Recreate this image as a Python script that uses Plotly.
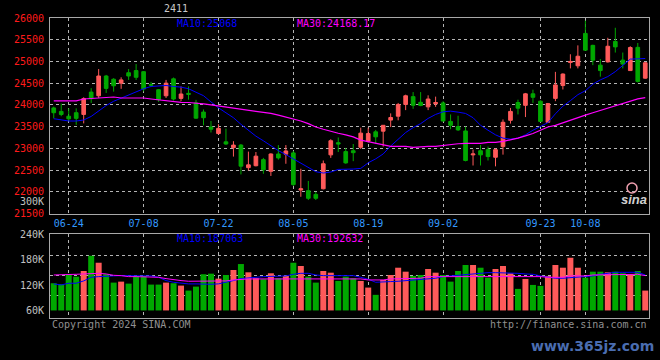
import plotly.graph_objects as go

# ---------------- data ----------------
dates = ["06-20","06-21","06-24","06-25","06-26","06-27","06-28",
         "07-01","07-02","07-03","07-04","07-05","07-08","07-09","07-10","07-11","07-12",
         "07-15","07-16","07-17","07-18","07-19","07-22","07-23","07-24","07-25","07-26",
         "07-29","07-30","07-31","08-01","08-02","08-05","08-06","08-07","08-08","08-09",
         "08-12","08-13","08-14","08-15","08-16","08-19","08-20","08-21","08-22","08-23",
         "08-26","08-27","08-28","08-29","08-30","09-02","09-03","09-04","09-05","09-06",
         "09-09","09-10","09-11","09-12","09-13","09-18","09-19","09-20","09-23","09-24",
         "09-25","09-26","09-27","09-30","10-08","10-09","10-10","10-11","10-14","10-15",
         "10-16","10-17","10-18"]

open_ = [23930,23850,23740,23820,23780,24295,24210,24665,24590,24500,
         24740,24790,24765,24470,24350,24210,24600,24150,24265,24045,
         23835,23490,23340,23150,23015,23075,22555,22600,22740,22470,
         22870,22865,22895,22040,22025,21940,22070,22850,23130,22925,
         22945,23025,23165,23380,23395,23650,23740,24010,24190,24060,
         23955,24025,24045,23620,23500,23400,22850,22945,22970,22795,
         23040,23645,24055,23990,24255,24085,23600,24150,24445,24975,
         24900,25645,25370,24915,24990,25460,25030,24790,25325,24615]
high = [23960,24030,23920,23920,24175,24385,24825,24690,24615,24635,
        24825,24940,24780,24530,24365,24575,24630,24425,24425,24115,
        23895,23630,23555,23455,23165,23100,22925,22915,22780,22885,
        23075,23075,22940,22530,22250,22000,22720,23210,23250,23010,
        23100,23475,23475,23425,23530,23805,24045,24235,24295,24295,
        24220,24190,24085,23780,23750,23500,22970,23075,23040,23000,
        23665,23930,24120,24275,24350,24105,24045,24760,24725,25165,
        25370,25940,25385,25055,25545,25775,25205,25350,25425,24990]
low = [23690,23740,23630,23540,23575,24045,24160,24275,24305,24370,
       24575,24575,24310,24410,24070,24160,24100,24085,24120,23680,
       23530,23365,23325,23075,22810,22400,22490,22585,22415,22365,
       22740,22645,22135,21885,21810,21810,22055,22780,22915,22645,
       22705,22985,23135,23105,23040,23490,23645,23880,23910,23970,
       23880,23955,23615,23440,23400,22700,22605,22605,22720,22585,
       22855,23570,23780,23720,24045,23605,23585,24085,24355,24840,
       24840,25245,24915,24650,24975,25205,24840,24780,24515,24600]
close = [23820,23780,23680,23690,24145,24145,24665,24380,24440,24575,
         24665,24635,24365,24455,24120,24500,24135,24250,24245,23695,
         23705,23440,23460,23100,23075,22590,22620,22820,22505,22870,
         22780,22940,22165,22070,21850,21850,22645,23175,23100,22665,
         22900,23350,23340,23265,23530,23710,24010,24210,23990,23985,
         24135,24055,23630,23530,23425,22720,22870,22850,22810,22970,
         23600,23850,23925,24255,24175,23620,24030,24460,24710,25000,
         25120,25260,25030,24790,25350,25335,24940,25320,24540,24970]

ma10 = [23682,23652,23629,23629,23652,23735,23856,23985,24083,24159,
        24235,24295,24371,24424,24439,24447,24424,24409,24371,24295,
        24212,24068,23932,23818,23705,23553,23417,23280,23174,23053,
        22947,22856,22758,22644,22553,22462,22432,22455,22515,22515,
        22523,22538,22667,22758,22871,23053,23212,23364,23477,23568,
        23689,23780,23841,23856,23833,23803,23705,23530,23417,23311,
        23235,23212,23235,23311,23417,23508,23591,23795,23970,24098,
        24235,24326,24477,24576,24652,24765,24917,25053,25060,25068]
ma30 = [24091,24091,24091,24091,24136,24144,24159,24174,24182,24159,
        24159,24159,24159,24136,24114,24091,24068,24060,24055,24045,
        24023,24000,23977,23955,23932,23909,23871,23864,23841,23803,
        23765,23720,23682,23629,23568,23492,23439,23386,23348,23311,
        23265,23189,23151,23114,23076,23045,23045,23045,23023,23038,
        23045,23045,23068,23091,23106,23114,23114,23114,23136,23136,
        23159,23189,23235,23288,23341,23417,23492,23530,23591,23651,
        23720,23765,23818,23871,23932,23992,24045,24098,24140,24168]

volume = [124500,122200,145800,140100,153500,189600,173100,145800,126000,128300,
          123600,141800,141800,121300,121300,126000,124500,118900,107100,116500,
          145800,147200,135400,144100,155900,170000,150400,136300,134000,148100,
          136300,141800,173100,165300,140100,126000,153500,149500,130000,140100,
          136300,130000,114200,97000,132300,144100,161300,151900,141800,144100,
          158200,149500,144100,128300,153500,167700,167700,161300,137700,158200,
          165300,148100,111100,134700,120500,118200,141800,167700,161300,184900,
          161300,137700,151900,151900,150400,151900,148100,145800,153500,107100]
vol_ma10 = [122900,120500,124500,124500,130000,138600,140200,140200,141800,142500,
            142500,141800,141800,141800,138600,130800,126800,124500,122900,122900,
            122100,122100,123000,126000,130800,135500,136300,138600,140200,140200,
            140200,141800,145700,148000,148000,144100,142500,142500,142500,142500,
            142500,138600,133900,126800,126800,128400,129200,130800,132300,132300,
            133900,136300,140200,141800,143300,146500,148000,149600,149600,149600,
            149600,148000,148000,146500,145700,141800,138600,136300,136300,137800,
            138600,140200,141800,145700,148000,150400,150400,150400,150400,144100]
vol_ma30 = [144100,144100,145700,145700,146500,148000,148000,146500,143300,142500,
            140200,140200,140200,140200,138600,135500,132300,130800,129200,129200,
            128400,128400,128400,130000,132300,133900,134700,134700,134700,136300,
            136300,136300,136300,136300,136300,136300,135500,135500,135500,135500,
            135500,134700,132300,132300,132300,134700,134700,134700,136300,136300,
            140200,140200,141800,141800,141800,140200,140200,140200,140200,141800,
            141800,141800,141800,140200,140200,140200,138600,138600,138600,141800,
            141800,141800,144100,144100,145700,145700,145700,145700,145700,142500]

price_ticks = [21500,22000,22500,23000,23500,24000,24500,25000,25500,26000]
label_dates = ["06-24","07-08","07-22","08-05","08-19","09-02","09-23","10-08"]
vol_ticks = [60000,120000,180000,240000]
vol_tick_text = ["60K","120K","180K","240K"]
vol_grid = [96300,143400,191200]
vol_base = 60000

title_text = "2411"
ma10_label = "MA10:25068"
ma30_label = "MA30:24168.17"
vma10_label = "MA10:187063"
vma30_label = "MA30:192632"

# ---------------- styling ----------------
RED = "#ff5a5a"
GREEN = "#00a800"
GRID = "#b4b4b4"
BORDER = "#a8a8a8"
FONT = "DejaVu Sans Mono"

idx = list(range(len(dates)))
label_pos = [dates.index(d) for d in label_dates]
bar_colors = [RED if c >= o else GREEN for o, c in zip(open_, close)]

fig = go.Figure()

fig.add_trace(go.Candlestick(
    x=idx, open=open_, high=high, low=low, close=close,
    increasing=dict(line=dict(color=RED, width=1), fillcolor=RED),
    decreasing=dict(line=dict(color=GREEN, width=1), fillcolor=GREEN),
    whiskerwidth=0, xaxis="x", yaxis="y", showlegend=False, hoverinfo="skip"))
fig.add_trace(go.Scatter(x=idx, y=ma10, mode="lines", line=dict(color="#0000ff", width=1),
                         xaxis="x", yaxis="y", showlegend=False, hoverinfo="skip"))
fig.add_trace(go.Scatter(x=idx, y=ma30, mode="lines", line=dict(color="#ff00ff", width=1.2),
                         xaxis="x", yaxis="y", showlegend=False, hoverinfo="skip"))

fig.add_trace(go.Bar(x=idx, y=[v - vol_base for v in volume], base=vol_base,
                     marker=dict(color=bar_colors, line=dict(width=0)), width=0.8,
                     xaxis="x2", yaxis="y2", showlegend=False, hoverinfo="skip"))
fig.add_trace(go.Scatter(x=idx, y=vol_ma10, mode="lines", line=dict(color="#0000ff", width=1),
                         xaxis="x2", yaxis="y2", showlegend=False, hoverinfo="skip"))
fig.add_trace(go.Scatter(x=idx, y=vol_ma30, mode="lines", line=dict(color="#ff00ff", width=1),
                         xaxis="x2", yaxis="y2", showlegend=False, hoverinfo="skip"))

axis_common = dict(showline=True, mirror=True, linecolor=BORDER, linewidth=1,
                   zeroline=False, ticks="", gridcolor=GRID, griddash="dot", gridwidth=1)

fig.update_layout(
    width=660, height=360,
    margin=dict(l=50, r=11, t=18, b=42),
    paper_bgcolor="black", plot_bgcolor="black",
    font=dict(family=FONT, size=10, color="#c0c0c0"),
    bargap=0.2,
    xaxis=dict(domain=[0, 1], anchor="y", range=[-0.5, len(idx) - 0.5],
               tickmode="array", tickvals=label_pos, ticktext=label_dates,
               tickfont=dict(color="#3399ff", size=10, family=FONT),
               showgrid=True, rangeslider=dict(visible=False), **axis_common),
    yaxis=dict(domain=[0.3483, 1], anchor="x", range=[price_ticks[0], price_ticks[-1]],
               tickmode="array", tickvals=price_ticks, ticktext=[str(t) for t in price_ticks],
               tickfont=dict(color="#ff1a1a", size=10, family=FONT),
               showgrid=True, ticklabelstandoff=3, **axis_common),
    xaxis2=dict(domain=[0, 1], anchor="y2", matches="x", range=[-0.5, len(idx) - 0.5],
                tickmode="array", tickvals=label_pos, showticklabels=False,
                showgrid=True, **axis_common),
    yaxis2=dict(domain=[0, 0.279], anchor="x2", range=[42100, 240500],
                tickmode="array", tickvals=vol_ticks, ticktext=vol_tick_text,
                tickfont=dict(color="#c0c0c0", size=10, family=FONT),
                showgrid=False, ticklabelstandoff=3,
                minor=dict(tickmode="array", tickvals=vol_grid, showgrid=True,
                           gridcolor=GRID, griddash="dot", gridwidth=1, ticks=""),
                **axis_common),
)

def ann(text, x, y, color, xanchor="left", size=10, family=FONT, **kw):
    fig.add_annotation(text=text, x=x, y=y, xref="paper", yref="paper",
                       xanchor=xanchor, yanchor="middle", showarrow=False,
                       font=dict(color=color, size=size, family=family), **kw)

ann(title_text, 0.2104, 1.03, "#c8c8c8", xanchor="center", size=10)
ann(ma10_label, 0.2087, 0.983, "#0000ff")
ann(ma30_label, 0.409, 0.983, "#ff00ff")
ann(vma10_label, 0.2087, 0.2657, "#0000ff")
ann(vma30_label, 0.409, 0.2657, "#ff00ff")
ann("300K", 0, 0.39, "#c0c0c0", xanchor="right", xshift=-4)
ann("Copyright 2024 SINA.COM", 0, -0.02, "#909090")
ann("http://finance.sina.com.cn", 1, -0.02, "#909090", xanchor="right")
ann("<b><i>sina</i></b>", 0.975, 0.395, "#d0d0d0", xanchor="center", size=13,
    family="Liberation Sans")
ann("<b>www.365jz.com</b>", 0.905, -0.093, "#4a6db0", xanchor="center", size=14,
    family="DejaVu Sans")

fig.add_shape(type="circle", xref="paper", yref="paper",
              x0=0.9633, x1=0.98, y0=0.4167, y1=0.45,
              line=dict(color="#f0a0b0", width=1.5))

fig.write_html("out.html", config={"displayModeBar": False},
               post_script="document.body.style.margin='0';")
